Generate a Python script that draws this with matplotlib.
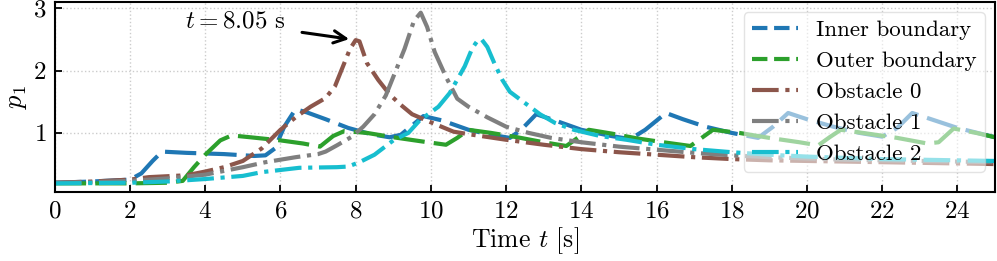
import matplotlib
matplotlib.use("Agg")
import matplotlib.pyplot as plt
from matplotlib.lines import Line2D

plt.rcParams['font.family'] = 'serif'
plt.rcParams['font.serif'] = ['cmr10', 'DejaVu Serif']
plt.rcParams['mathtext.fontset'] = 'cm'
plt.rcParams['axes.formatter.use_mathtext'] = True
plt.rcParams['axes.unicode_minus'] = False

# pressure p1 at the probes
t_inner = [0, 1, 2, 2.3, 2.6, 2.85, 3.5, 4.5, 5.3, 5.6, 5.85, 6.1, 6.4, 6.7, 7.2,
           7.8, 8.4, 8.9, 9.2, 9.5, 9.8, 10.3, 11, 11.6, 12.1, 12.4, 12.8, 13.3,
           14, 14.8, 15.3, 15.7, 16.25, 16.7, 17.3, 18, 18.7, 19.1, 19.5, 20,
           20.7, 21.4, 22.0, 22.4, 22.8, 23.3, 24, 25]
p_inner = [0.2, 0.22, 0.25, 0.35, 0.55, 0.7, 0.68, 0.66, 0.63, 0.64, 0.75, 1.1,
           1.38, 1.33, 1.22, 1.08, 0.98, 0.93, 0.97, 1.12, 1.27, 1.2, 1.05, 0.97,
           0.92, 1.05, 1.3, 1.2, 1.05, 0.95, 0.9, 1.05, 1.32, 1.22, 1.1, 1.0,
           0.92, 1.1, 1.32, 1.22, 1.1, 1.0, 0.94, 1.08, 1.32, 1.22, 1.08, 0.93]

t_outer = [0, 1, 2, 3, 3.4, 3.7, 4.0, 4.4, 4.7, 5.2, 6, 6.6, 7.05, 7.4, 7.7, 8.3,
           9, 9.8, 10.4, 10.7, 11.0, 11.6, 12.3, 13, 13.6, 13.9, 14.2, 14.8,
           15.5, 16.3, 16.9, 17.2, 17.5, 18.2, 19, 19.8, 20.3, 20.6, 20.9, 21.6,
           22.4, 23.2, 23.5, 23.9, 24.5, 25]
p_outer = [0.19, 0.19, 0.19, 0.2, 0.23, 0.45, 0.65, 0.88, 0.96, 0.93, 0.88, 0.83,
           0.78, 0.95, 1.03, 1.0, 0.93, 0.86, 0.81, 0.92, 1.05, 1.0, 0.93, 0.85,
           0.79, 0.92, 1.05, 0.99, 0.91, 0.84, 0.79, 0.92, 1.05, 1.0, 0.92, 0.85,
           0.8, 0.93, 1.05, 0.99, 0.92, 0.83, 0.85, 1.07, 1.0, 0.93]

t_obs0 = [0, 1, 2, 2.5, 3.5, 4.0, 4.5, 5.0, 5.5, 6.0, 6.4, 6.8, 7.2, 7.45, 7.65,
          7.85, 8.0, 8.1, 8.3, 8.6, 8.9, 9.2, 9.5, 10, 10.6, 11, 12, 13, 14, 15,
          16, 17, 18, 19, 20, 21, 22, 23, 24, 25]
p_obs0 = [0.2, 0.22, 0.25, 0.29, 0.32, 0.38, 0.45, 0.55, 0.75, 1.05, 1.25, 1.42,
          1.56, 1.75, 2.05, 2.35, 2.49, 2.47, 2.12, 1.85, 1.62, 1.45, 1.3, 1.17,
          1.02, 0.98, 0.89, 0.81, 0.74, 0.69, 0.65, 0.61, 0.58, 0.56, 0.55,
          0.54, 0.53, 0.52, 0.51, 0.5]

t_obs1 = [0, 1, 2, 3, 4, 5, 5.6, 6.4, 7.0, 7.2, 7.5, 7.9, 8.2, 8.5, 8.8, 9.0,
          9.3, 9.55, 9.73, 9.9, 10.1, 10.4, 10.7, 11, 11.5, 12, 12.6, 13.2, 14,
          15, 16, 17, 18, 19, 20, 21, 22, 23, 24, 25]
p_obs1 = [0.2, 0.21, 0.23, 0.27, 0.33, 0.45, 0.53, 0.61, 0.66, 0.7, 0.8, 0.94,
          1.1, 1.3, 1.6, 1.9, 2.35, 2.8, 2.93, 2.7, 2.3, 1.9, 1.55, 1.42, 1.25,
          1.1, 1.0, 0.92, 0.85, 0.78, 0.73, 0.68, 0.64, 0.61, 0.59, 0.57, 0.56,
          0.55, 0.54, 0.53]

t_obs2 = [0, 2, 3, 4, 5, 5.5, 6.5, 7.5, 7.8, 8.1, 8.5, 9.0, 9.4, 9.7, 10.2,
          10.5, 10.9, 11.1, 11.25, 11.35, 11.5, 11.7, 11.9, 12.1, 12.5, 12.9,
          13.3, 13.8, 14.5, 15.2, 16, 17, 18, 19, 20, 21, 22, 23, 24, 25]
p_obs2 = [0.19, 0.2, 0.22, 0.26, 0.31, 0.37, 0.44, 0.45, 0.46, 0.53, 0.65, 0.88,
          1.0, 1.2, 1.42, 1.64, 2.07, 2.36, 2.49, 2.5, 2.38, 2.1, 1.85, 1.66,
          1.48, 1.3, 1.16, 1.05, 0.95, 0.89, 0.81, 0.74, 0.69, 0.65, 0.62, 0.6,
          0.58, 0.57, 0.56, 0.55]

labels = ['Inner boundary', 'Outer boundary', 'Obstacle 0', 'Obstacle 1',
          'Obstacle 2']
colors = ['tab:blue', 'tab:green', 'tab:brown', 'tab:gray', 'tab:cyan']

fig = plt.figure(figsize=(9.97, 2.61), dpi=100)
ax = fig.add_axes([0.055, 0.264, 0.943, 0.728])

lw = 3
dash = (7.5, 2.2)
dashdot = (6.4, 1.6, 1, 1.6)
series = [(t_inner, p_inner, dash), (t_outer, p_outer, dash),
          (t_obs0, p_obs0, dashdot), (t_obs1, p_obs1, dashdot),
          (t_obs2, p_obs2, dashdot)]
for (t, p, d), c in zip(series, colors):
    ax.plot(t, p, color=c, lw=lw, dashes=d)

ax.set_xlim(0, 25)
ax.set_ylim(0.05, 3.1)
ax.set_xticks(range(0, 25, 2))
ax.set_yticks([1, 2, 3])
ax.grid(True, ls=':', color='#cccccc', lw=1)
ax.tick_params(direction='in', length=5, width=1.3, labelsize=18, pad=6)
for s in ax.spines.values():
    s.set_linewidth(1.5)

ax.set_xlabel('Time $t$ [s]', fontsize=18.5, labelpad=2)
ax.set_ylabel('$p_1$', fontsize=19, labelpad=3)

ax.text(6.15, 2.79, '$t = 8.05$ s', fontsize=18, ha='right', va='center')
ax.annotate('', xy=(7.9, 2.5), xytext=(6.5, 2.62),
            arrowprops=dict(arrowstyle='->', lw=2.2, color='black',
                            mutation_scale=22))

# legend handles use the plain matplotlib dash styles
handles = [Line2D([], [], color=c, lw=lw, ls=s)
           for c, s in zip(colors, ['--', '--', '-.', '-.', '-.'])]
ax.legend(handles, labels, loc='upper right', fontsize=16.5, framealpha=0.55,
          labelspacing=0.47, handlelength=2.0, handletextpad=0.8,
          borderaxespad=0.45, borderpad=0.35)

fig.savefig('out.png', dpi=100)
